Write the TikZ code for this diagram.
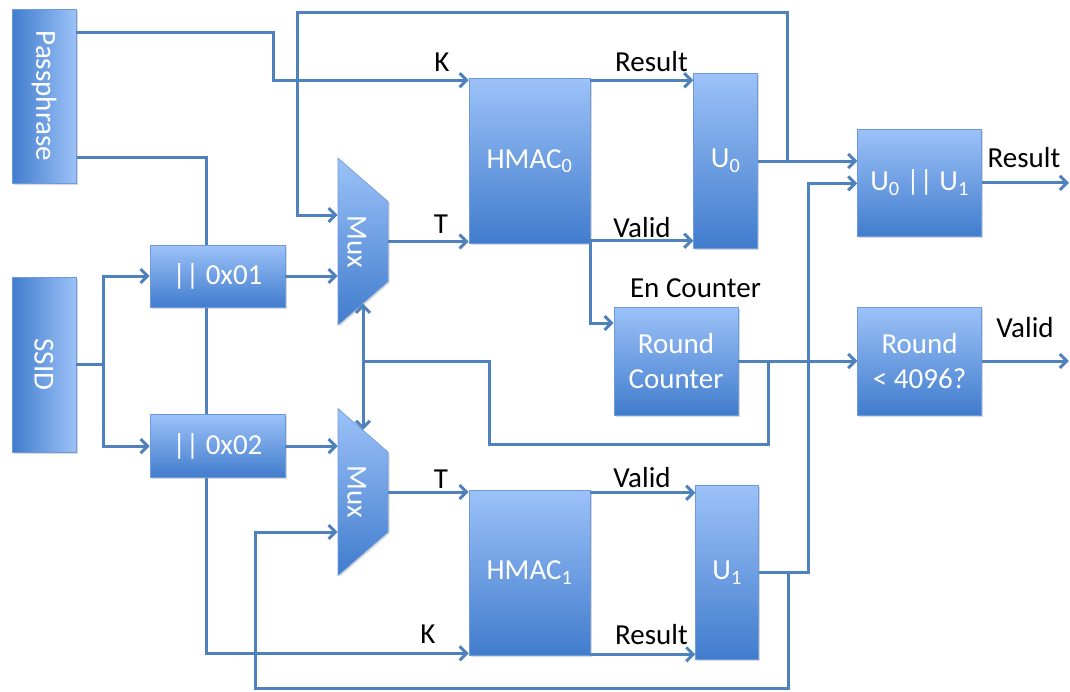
\documentclass[tikz,border=0pt]{standalone}
\usepackage{fontspec}
\setmainfont{Carlito}
\usetikzlibrary{arrows.meta,positioning,shapes.geometric,shadows,backgrounds}
\definecolor{boxtop}{HTML}{9CC2F8}
\definecolor{boxbot}{HTML}{417CCD}
\definecolor{boxline}{HTML}{6B9BDB}
\definecolor{linec}{HTML}{4F81BD}

\begin{document}
\begin{tikzpicture}[
  x=1pt, y=1pt,
  font=\fontsize{29}{35}\selectfont,
  boxbase/.style={draw=boxline,line width=0.6pt,text=white,align=center,inner sep=0pt,
    drop shadow={shadow xshift=1.5pt,shadow yshift=-1.5pt,opacity=0.3}},
  box/.style={boxbase,top color=boxtop,bottom color=boxbot},
  vbox/.style={boxbase,left color=boxbot,right color=boxtop,minimum width=64pt},
  mux/.style={boxbase,top color=boxtop,bottom color=boxbot,trapezium,trapezium angle=49,
    text width=80pt,text height=40.5pt,text depth=9.5pt,rotate=-90},
  lbl/.style={anchor=base,inner sep=0pt},
  line/.style={draw=linec,line width=3pt},
  arr/.style={line,-{Straight Barb[length=7pt,width=14pt]}},
  arrs/.style={line,{Straight Barb[length=7pt,width=14pt]}-{Straight Barb[length=7pt,width=14pt]}}
]
\useasboundingbox (0,0) rectangle (1070,-691);
\node[vbox,minimum height=174pt] (pass) at (44,-96) {\rotatebox{-90}{Passphrase}};
\node[vbox,minimum height=175pt] (ssid) at (44,-364.5) {\rotatebox{-90}{SSID}};
\node[box,minimum width=135pt,minimum height=62pt] (ox1) at (217.5,-276) {|| 0x01};
\node[box,minimum width=135pt,minimum height=63pt,below=107pt of ox1] (ox2) {|| 0x02};
\node[mux] (mux0) at (363,-241.5) {Mux};
\node[mux] (mux1) at (363,-492) {Mux};
\node[box,minimum width=121pt,minimum height=165pt] (hmac0) at (529.5,-161) {HMAC\textsubscript{0}};
\node[box,minimum width=121pt,minimum height=165pt] (hmac1) at (529.5,-572.5) {HMAC\textsubscript{1}};
\node[box,minimum width=64pt,minimum height=175pt,right=103pt of hmac0] (u0) {U\textsubscript{0}};
\node[box,minimum width=63pt,minimum height=174pt,right=105pt of hmac1] (u1) {U\textsubscript{1}};
\node[box,minimum width=124pt,minimum height=108pt] (rc) at (676,-361) {Round\\Counter};
\node[box,minimum width=124pt,minimum height=108pt,right=119pt of rc] (rnd) {Round\\< 4096?};
\node[box,minimum width=124pt,minimum height=107pt,above=70pt of rnd] (uu) {U\textsubscript{0} || U\textsubscript{1}};

\node[lbl] (k0) at (442,-71) {K};
\node[lbl] (t0) at (441,-233) {T};
\node[lbl] (res0) at (651.5,-71) {Result};
\node[lbl] (val0) at (642,-237) {Valid};
\node[lbl] (en) at (695.5,-297) {En Counter};
\node[lbl] (t1) at (441,-488) {T};
\node[lbl] (k1) at (428,-643) {K};
\node[lbl] (val1) at (642,-487) {Valid};
\node[lbl] (res1) at (651.5,-644) {Result};
\node[lbl] (resout) at (1024,-167) {Result};
\node[lbl] (valout) at (1025,-337) {Valid};

\coordinate (h0res) at ([yshift=-2pt]hmac0.north east);
\coordinate (h0val) at ([yshift=3pt]hmac0.south east);
\coordinate (h1val) at ([yshift=-3pt]hmac1.north east);
\coordinate (h1res) at ([yshift=1pt]hmac1.south east);
\coordinate (fb0) at ([xshift=30pt]u0.east);
\coordinate (fb1) at ([xshift=30pt]u1.east);
\coordinate (fbtop) at (297,-12);
\coordinate (fbbot) at (255,-688);
\coordinate (rcj) at ([xshift=30pt]rc.east);
\coordinate (selc) at (489,-444);
\coordinate (sel0) at (mux0.right side);
\coordinate (resend) at ([xshift=87pt]uu.east);
\coordinate (valend) at ([xshift=87pt]rnd.east);

\draw[arr] ([yshift=-24pt]pass.north east) -- ++(197pt,0) |- ([yshift=-2pt]hmac0.north west);
\begin{pgfonlayer}{background}
\draw[arr] ([yshift=26pt]pass.south east) -| ([xshift=-11.5pt]ox2.south) |- ([yshift=2pt]hmac1.south west);
\end{pgfonlayer}
\draw[arr] (ssid.east) -- ++(27pt,0) |- (ox1.west);
\draw[arr] (ssid.east) -- ++(27pt,0) |- (ox2.west);
\draw[arr] (ox1.east) -- (ox1.east -| mux0.south);
\draw[arr] (ox2.east) -- (ox2.east -| mux1.south);
\draw[arr] (mux0.north) -- (mux0.north -| hmac0.west);
\draw[arr] (mux1.north) -- (mux1.north -| hmac1.west);
\draw[arr] (h0res) -- (h0res -| u0.west);
\draw[arr] (h0val) -- (h0val -| u0.west);
\draw[arr] (h0val) |- ([yshift=38pt]rc.west);
\draw[arr] (h1val) -- (h1val -| u1.west);
\draw[arr] (h1res) -- (h1res -| u1.west);
\draw[arr] (u0.east) -- (u0.east -| uu.west);
\draw[arr] (fb0) |- (fbtop) |- ([yshift=26.5pt]mux0.south);
\draw[arr] (u1.east) -- ++(50pt,0) |- ([yshift=-0.5pt]uu.west);
\draw[arr] (fb1) |- (fbbot) |- ([yshift=-40pt]mux1.south);
\draw[arr] (rc.east) -- (rnd.west);
\draw[line] (rcj) |- (selc) |- (sel0 |- rc.east);
\draw[arrs] (mux0.right side) -- (mux1.left side);
\draw[arr] (uu.east) -- (resend);
\draw[arr] (rnd.east) -- (valend);
\end{tikzpicture}
\end{document}
